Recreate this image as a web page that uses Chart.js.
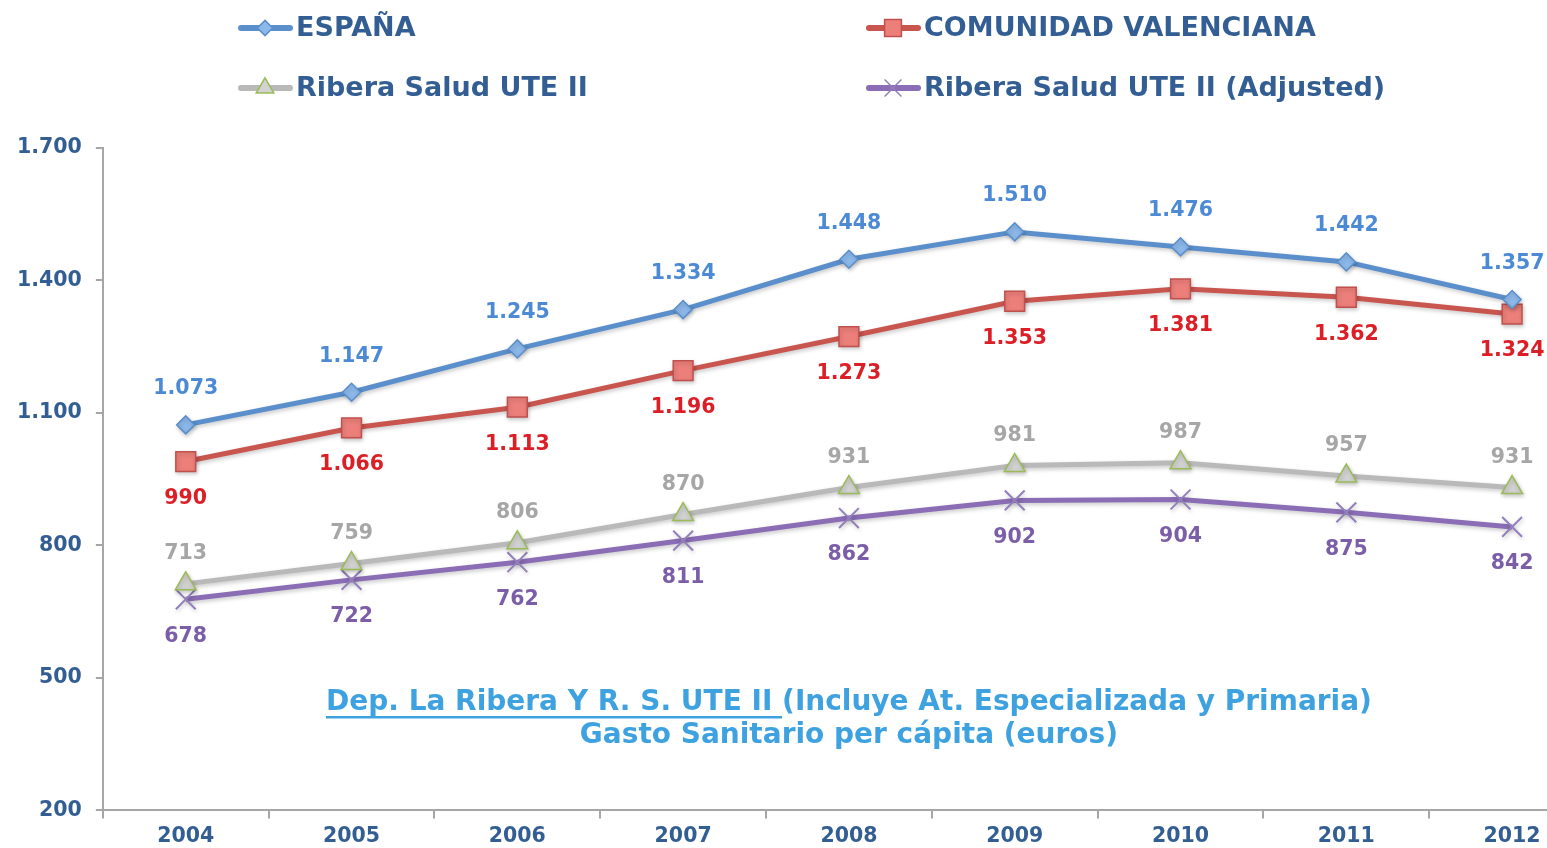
<!DOCTYPE html>
<html>
<head>
<meta charset="utf-8">
<script src="https://cdn.jsdelivr.net/npm/chart.js@4/dist/chart.umd.min.js"></script>
<style>
  html, body { margin: 0; padding: 0; background: #fff; overflow: hidden; }
  #wrap { width: 1611px; height: 855px; position: relative; }
</style>
</head>
<body>
<div id="wrap"><canvas id="grafico"></canvas></div>
<script>
  const anos = ["2004", "2005", "2006", "2007", "2008", "2009", "2010", "2011", "2012"];
  const espana = [1073, 1147, 1245, 1334, 1448, 1510, 1476, 1442, 1357];
  const valenciana = [990, 1066, 1113, 1196, 1273, 1353, 1381, 1362, 1324];
  const ribera = [713, 759, 806, 870, 931, 981, 987, 957, 931];
  const riberaAjustado = [678, 722, 762, 811, 862, 902, 904, 875, 842];
  const ticksY = [200, 500, 800, 1100, 1400, 1700];

  const FONTE = "'DejaVu Sans', Verdana, sans-serif";
  const AZUL_ESCURO = "#335e93";

  // formato español: 1.700
  function fmt(v) {
    if (v >= 1000) return Math.floor(v / 1000) + "." + String(v % 1000).padStart(3, "0");
    return String(v);
  }

  const series = [
    { label: "ESPAÑA", data: espana, line: "#5a8fcb", fill: "#8cb8ea", border: "#5a8fcb",
      style: "rectRot", radius: 9, lblColor: "#4d8ad6", lblPos: -36 },
    { label: "COMUNIDAD VALENCIANA", data: valenciana, line: "#c9554f", fill: "#ec7f7a", border: "#c0504d",
      style: "rect", radius: 14, lblColor: "#dc1f26", lblPos: 37 },
    { label: "Ribera Salud UTE II", data: ribera, line: "#b9b9b9", fill: "#d2d2d2", border: "#9bbb59",
      style: "triangle", radius: 12, lblColor: "#a6a6a6", lblPos: -30 },
    { label: "Ribera Salud UTE II (Adjusted)", data: riberaAjustado, line: "#8a6db5", fill: "#8a6db5", border: "#937fbb",
      style: "crossRot", radius: 14, lblColor: "#7b5ea7", lblPos: 37 }
  ];

  // sombra suave de las series
  const sombra = {
    id: "sombra",
    beforeDatasetsDraw(chart) {
      const ctx = chart.ctx;
      ctx.save();
      ctx.shadowColor = "rgba(0,0,0,0.22)";
      ctx.shadowBlur = 4;
      ctx.shadowOffsetY = 2;
      ctx.shadowOffsetX = 1;
    },
    afterDatasetsDraw(chart) {
      chart.ctx.restore();
    }
  };

  // etiquetas de valor
  const etiquetas = {
    id: "etiquetas",
    afterDatasetsDraw(chart) {
      const ctx = chart.ctx;
      ctx.save();
      ctx.shadowColor = "transparent";
      ctx.font = "bold 20.5px " + FONTE;
      ctx.textAlign = "center";
      ctx.textBaseline = "middle";
      chart.data.datasets.forEach((ds, i) => {
        const meta = chart.getDatasetMeta(i);
        ctx.fillStyle = series[i].lblColor;
        meta.data.forEach((pt, j) => {
          ctx.fillText(fmt(ds.data[j]), pt.x, pt.y + series[i].lblPos);
        });
      });
      ctx.restore();
    }
  };

  function drawShape(ctx, style, r, x, y) {
    ctx.beginPath();
    if (style === "rectRot") {
      ctx.moveTo(x, y - r); ctx.lineTo(x + r, y); ctx.lineTo(x, y + r); ctx.lineTo(x - r, y); ctx.closePath();
      ctx.fill(); ctx.stroke();
    } else if (style === "rect") {
      const h = r * Math.SQRT1_2;
      ctx.rect(x - h, y - h, 2 * h, 2 * h); ctx.fill(); ctx.stroke();
    } else if (style === "triangle") {
      for (let k = 0; k < 3; k++) {
        const a = k * 2 * Math.PI / 3;
        const px = x + Math.sin(a) * r, py = y - Math.cos(a) * r;
        if (k === 0) ctx.moveTo(px, py); else ctx.lineTo(px, py);
      }
      ctx.closePath(); ctx.fill(); ctx.stroke();
    } else {
      const h = r * Math.SQRT1_2;
      ctx.moveTo(x - h, y - h); ctx.lineTo(x + h, y + h);
      ctx.moveTo(x + h, y - h); ctx.lineTo(x - h, y + h);
      ctx.stroke();
    }
  }

  // leyenda en dos columnas
  const leyenda = {
    id: "leyenda",
    afterDraw(chart) {
      const ctx = chart.ctx;
      const cols = [238, 866];
      const filas = [28, 88];
      ctx.save();
      series.forEach((s, i) => {
        const x = cols[i % 2];
        const y = filas[Math.floor(i / 2)];
        ctx.strokeStyle = s.line;
        ctx.lineWidth = 6;
        ctx.lineCap = "round";
        ctx.beginPath();
        ctx.moveTo(x + 3, y);
        ctx.lineTo(x + 52, y);
        ctx.stroke();
        ctx.fillStyle = s.fill;
        ctx.strokeStyle = s.border;
        ctx.lineWidth = 1.5;
        ctx.lineCap = "butt";
        drawShape(ctx, s.style, s.radius * 0.85, x + 27, y);
        ctx.font = "bold 27px " + FONTE;
        ctx.fillStyle = AZUL_ESCURO;
        ctx.textAlign = "left";
        ctx.textBaseline = "middle";
        ctx.fillText(s.label, x + 58, y + 1);
      });
      ctx.restore();
    }
  };

  // título dentro del área
  const titulo = {
    id: "titulo",
    afterDraw(chart) {
      const ctx = chart.ctx;
      const a = chart.chartArea;
      const cx = (a.left + a.right) / 2;
      ctx.save();
      ctx.font = "bold 28px " + FONTE;
      ctx.fillStyle = "#3ea2e0";
      ctx.textBaseline = "middle";
      const p1 = "Dep. La Ribera Y R. S. UTE II ";
      const p2 = "(Incluye At. Especializada y Primaria)";
      const w1 = ctx.measureText(p1).width;
      const w2 = ctx.measureText(p2).width;
      const x0 = cx - (w1 + w2) / 2;
      ctx.textAlign = "left";
      ctx.fillText(p1, x0, 703);
      ctx.fillText(p2, x0 + w1, 703);
      ctx.fillRect(x0, 716, w1, 2.5);
      ctx.textAlign = "center";
      ctx.fillText("Gasto Sanitario per cápita (euros)", cx, 736);
      ctx.restore();
    }
  };

  function montarGrafico() {
    const ctx = document.getElementById("grafico").getContext("2d");
    Chart.defaults.font.family = FONTE;
    Chart.defaults.font.weight = "bold";

    const datasets = series.map(s => ({
      label: s.label,
      data: s.data,
      borderColor: s.line,
      borderWidth: 5,
      tension: 0,
      pointStyle: s.style,
      pointRadius: s.radius,
      pointHoverRadius: s.radius,
      pointBackgroundColor: s.fill,
      pointBorderColor: s.border,
      pointBorderWidth: s.style === "crossRot" ? 2 : 1.5
    }));

    new Chart(ctx, {
      type: "line",
      data: { labels: anos, datasets: datasets },
      options: {
        responsive: true,
        maintainAspectRatio: false,
        animation: false,
        layout: { padding: { top: 148, left: 3, right: 6, bottom: 0 } },
        plugins: {
          legend: { display: false },
          tooltip: { enabled: false }
        },
        scales: {
          x: {
            offset: true,
            grid: { display: true, offset: true, drawOnChartArea: false, drawTicks: true, tickLength: 8, color: "#a6a6a6", lineWidth: 2 },
            border: { color: "#a6a6a6", width: 2 },
            ticks: { color: AZUL_ESCURO, font: { size: 20.5, weight: "bold" }, padding: 6, maxRotation: 0 }
          },
          y: {
            min: ticksY[0],
            max: ticksY[ticksY.length - 1],
            afterBuildTicks: axis => { axis.ticks = ticksY.map(v => ({ value: v })); },
            grid: { display: true, drawOnChartArea: false, drawTicks: true, tickLength: 7, color: "#a6a6a6", lineWidth: 2 },
            border: { color: "#a6a6a6", width: 2 },
            ticks: { color: AZUL_ESCURO, font: { size: 20.5, weight: "bold" }, padding: 14, callback: v => fmt(v) }
          }
        }
      },
      plugins: [sombra, etiquetas, leyenda, titulo]
    });
  }
  document.addEventListener("DOMContentLoaded", montarGrafico);
</script>
</body>
</html>
